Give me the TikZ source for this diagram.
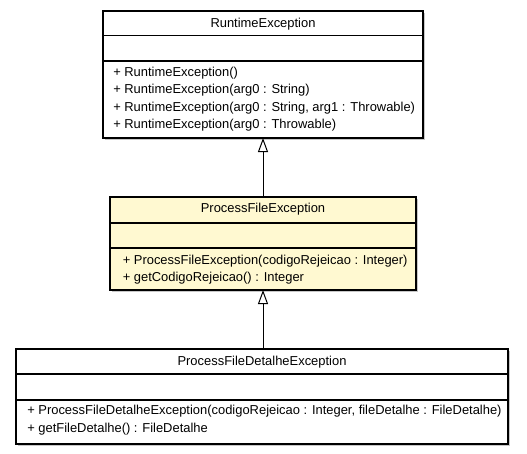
\documentclass[tikz,border=0pt]{standalone}
\usepackage{fontspec}
\setmainfont{Liberation Sans}
\usetikzlibrary{arrows.meta}
\definecolor{classfill}{RGB}{255,249,209}
\begin{document}
\begin{tikzpicture}[x=0.75pt,y=-0.75pt,
  classbox/.style={draw=black, line width=0.9pt, rectangle, inner sep=0pt, outer sep=0pt},
  shadowbox/.style={fill=black!22, draw=none},
  sepline/.style={line width=0.9pt},
  lbl/.style={font=\fontsize{9.7}{11}\selectfont, inner sep=0pt, anchor=base west},
  ttl/.style={font=\fontsize{9.7}{11}\selectfont, inner sep=0pt, anchor=base},
  gen/.style={line width=0.75pt, -{Triangle[open, length=10.5pt, width=7.5pt, line width=0.75pt, fill=white]}}]
\useasboundingbox (0,0) rectangle (527,453);

% RuntimeException
\fill[shadowbox] (105,13) rectangle (425,140);
\node[classbox, fill=white, minimum width=240pt, minimum height=95.25pt] (rt) at (263,74.5) {};
\draw[sepline] (rt.west |- 0,35.5) -- (rt.east |- 0,35.5);
\draw[sepline] (rt.west |- 0,61) -- (rt.east |- 0,61);
\node[ttl] (rtT) at (263,27.5) {RuntimeException};
\node[lbl] (rtM1) at (113,76) {+ RuntimeException()};
\node[lbl] (rtM2) at (113,93.5) {+ RuntimeException(arg0 : String)};
\node[lbl] (rtM3) at (113,111) {+ RuntimeException(arg0 : String, arg1 : Throwable)};
\node[lbl] (rtM4) at (113,128.5) {+ RuntimeException(arg0 : Throwable)};

% ProcessFileException
\fill[shadowbox] (112,199) rectangle (418,292);
\node[classbox, fill=classfill, minimum width=229.5pt, minimum height=69.75pt] (pfe) at (263,243.5) {};
\draw[sepline] (pfe.west |- 0,223) -- (pfe.east |- 0,223);
\draw[sepline] (pfe.west |- 0,248) -- (pfe.east |- 0,248);
\node[ttl] (pfeT) at (263,212.5) {ProcessFileException};
\node[lbl] (pfeM1) at (122.5,264) {+ ProcessFileException(codigoRejeicao : Integer)};
\node[lbl] (pfeM2) at (122.5,281.5) {+ getCodigoRejeicao() : Integer};

% ProcessFileDetalheException
\fill[shadowbox] (18,351) rectangle (510,446);
\node[classbox, fill=white, minimum width=369pt, minimum height=71.25pt] (pfd) at (262,396.5) {};
\draw[sepline] (pfd.west |- 0,374) -- (pfd.east |- 0,374);
\draw[sepline] (pfd.west |- 0,400) -- (pfd.east |- 0,400);
\node[ttl] (pfdT) at (262,365.5) {ProcessFileDetalheException};
\node[lbl] (pfdM1) at (27,414.5) {+ ProcessFileDetalheException(codigoRejeicao : Integer, fileDetalhe : FileDetalhe)};
\node[lbl] (pfdM2) at (27,432) {+ getFileDetalhe() : FileDetalhe};

% generalizations
\draw[gen] (pfe.north) -- (pfe.north |- rt.south);
\draw[gen] (pfd.north -| pfe.south) -- (pfe.south);
\end{tikzpicture}
\end{document}
